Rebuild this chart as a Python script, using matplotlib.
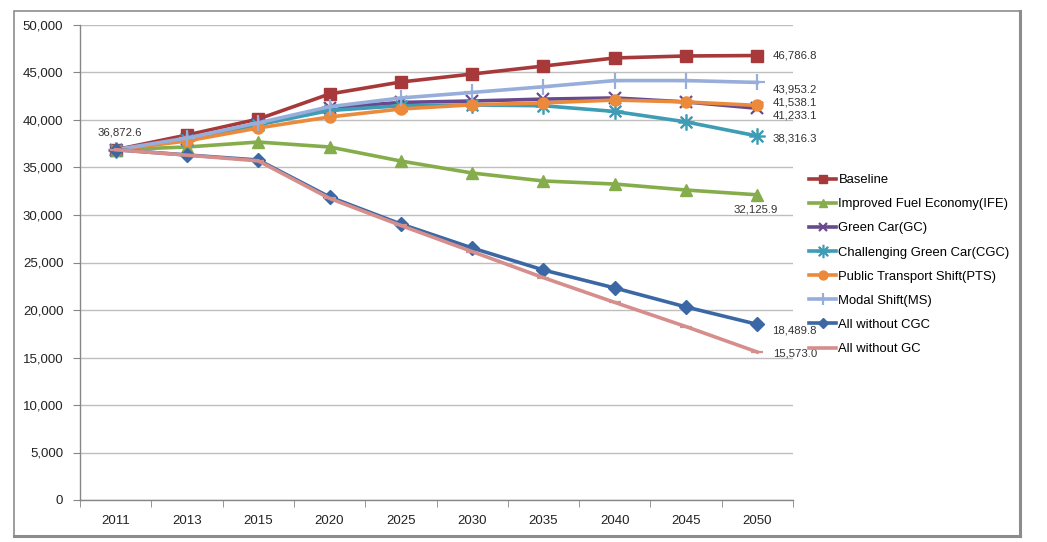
"""Transport energy demand scenarios, 2011-2050 (Excel-style line chart)."""

import matplotlib
matplotlib.use("Agg")
import matplotlib.pyplot as plt
from matplotlib.patches import Rectangle
from matplotlib.lines import Line2D

plt.rcParams['font.family'] = ['Liberation Sans', 'DejaVu Sans']

years = ['2011', '2013', '2015', '2020', '2025', '2030', '2035', '2040', '2045', '2050']

baseline = [36872.6, 38420, 40100, 42740, 44000, 44840, 45680, 46530, 46740, 46786.8]
ife = [36872.6, 37160, 37680, 37160, 35680, 34420, 33580, 33260, 32630, 32125.9]
green_car = [36872.6, 38000, 39600, 41300, 41850, 42000, 42200, 42320, 41900, 41233.1]
cgc = [36872.6, 37900, 39500, 41000, 41500, 41580, 41500, 40900, 39800, 38316.3]
pts = [36872.6, 37790, 39160, 40320, 41160, 41600, 41800, 42100, 41900, 41538.1]
modal_shift = [36872.6, 38100, 39700, 41400, 42320, 42900, 43500, 44150, 44150, 43953.2]
all_no_cgc = [36872.6, 36320, 35790, 31900, 29050, 26530, 24210, 22320, 20320, 18489.8]
all_no_gc = [36872.6, 36300, 35700, 31750, 28900, 26150, 23400, 20800, 18250, 15573.0]

series = [
    ('Baseline', baseline, '#A8393B', 's', 8),
    ('Improved Fuel Economy(IFE)', ife, '#86AD4C', '^', 8),
    ('Green Car(GC)', green_car, '#674A8E', 'x', 8),
    ('Challenging Green Car(CGC)', cgc, '#3E9CB5', '$\u2733$', 11),
    ('Public Transport Shift(PTS)', pts, '#EC8A3C', 'o', 8),
    ('Modal Shift(MS)', modal_shift, '#97AEDB', '+', 11),
    ('All without CGC', all_no_cgc, '#3B68A4', 'D', 7),
    ('All without GC', all_no_gc, '#D58E8C', '_', 9),
]

# pixel offsets (dx, dy) of the end-value labels from the 2050 point
end_offsets = {
    'Baseline': (15, 0),
    'Improved Fuel Economy(IFE)': (-2, -15),
    'Green Car(GC)': (15, -7),
    'Challenging Green Car(CGC)': (15, -3),
    'Public Transport Shift(PTS)': (15, 3),
    'Modal Shift(MS)': (15, -7),
    'All without CGC': (15, -6),
    'All without GC': (16, -1),
}

W, H = 1047, 542
fig = plt.figure(figsize=(W / 100, H / 100), dpi=100)
ax = fig.add_axes([80 / W, (H - 500) / H, (793 - 80) / W, (500 - 25) / H])

x = list(range(len(years)))
px = 0.72  # points per pixel at 100 dpi

for name, vals, color, marker, ms in series:
    mew = 1.6 if marker in ('x', '+', '_') else 1.0
    ax.plot(x, vals, color=color, lw=2.6, marker=marker, markersize=ms,
            markeredgewidth=mew, markeredgecolor=color, markerfacecolor=color,
            label=name, zorder=3, solid_joinstyle='round')
    dx, dy = end_offsets[name]
    ha = 'center' if name.startswith('Improved') else 'left'
    ax.annotate(f"{vals[-1]:,.1f}", (x[-1], vals[-1]), xytext=(dx * px, dy * px),
                textcoords='offset points', ha=ha, va='center', fontsize=8.2,
                color='#333333', annotation_clip=False)

ax.annotate(f"{baseline[0]:,.1f}", (x[0], baseline[0]), xytext=(4 * px, 17 * px),
            textcoords='offset points', ha='center', va='center', fontsize=8.2,
            color='#333333')

ax.set_xlim(-0.5, len(years) - 0.5)
ax.set_ylim(0, 50000)
ax.set_yticks(range(0, 50001, 5000))
ax.set_yticklabels([f"{v:,}" for v in range(0, 50001, 5000)])
ax.set_xticks(x)
ax.set_xticklabels(years)
ax.set_xticks([i - 0.5 for i in range(len(years) + 1)], minor=True)
ax.tick_params(axis='x', which='major', length=0, pad=11, labelsize=9.5, colors='#222222')
ax.tick_params(axis='x', which='minor', length=5, color='#868686', direction='out')
ax.tick_params(axis='y', length=5, labelsize=9.5, pad=7, colors='#222222')
ax.tick_params(axis='y', color='#868686')

ax.grid(axis='y', color='#BEBEBE', lw=1.0, zorder=0)
ax.set_axisbelow(True)
for side in ('top', 'right'):
    ax.spines[side].set_visible(False)
for side in ('left', 'bottom'):
    ax.spines[side].set_color('#868686')
    ax.spines[side].set_linewidth(1.0)

handles, labels = ax.get_legend_handles_labels()
fig.legend(handles, labels, loc='upper left', bbox_to_anchor=(809 / W, 1 - 174 / H),
           frameon=False, fontsize=9.4, handlelength=2.1, handletextpad=0.15,
           labelspacing=0.92, borderaxespad=0, borderpad=0, markerscale=0.8)

# chart border like the Excel chart area
fig.patches.append(Rectangle((14 / W, 1 - 536 / H), (1020 - 14) / W, (536 - 11) / H,
                             transform=fig.transFigure, fill=False,
                             edgecolor='#8C8C8C', lw=1.2))
fig.lines.append(Line2D([1020 / W, 1020 / W], [1 - 536 / H, 1 - 11 / H],
                        transform=fig.transFigure, color='#8C8C8C', lw=2.2))
fig.lines.append(Line2D([14 / W, 1020 / W], [1 - 536 / H, 1 - 536 / H],
                        transform=fig.transFigure, color='#8C8C8C', lw=2.2))

fig.savefig('out.png', dpi=100)
plt.close(fig)
